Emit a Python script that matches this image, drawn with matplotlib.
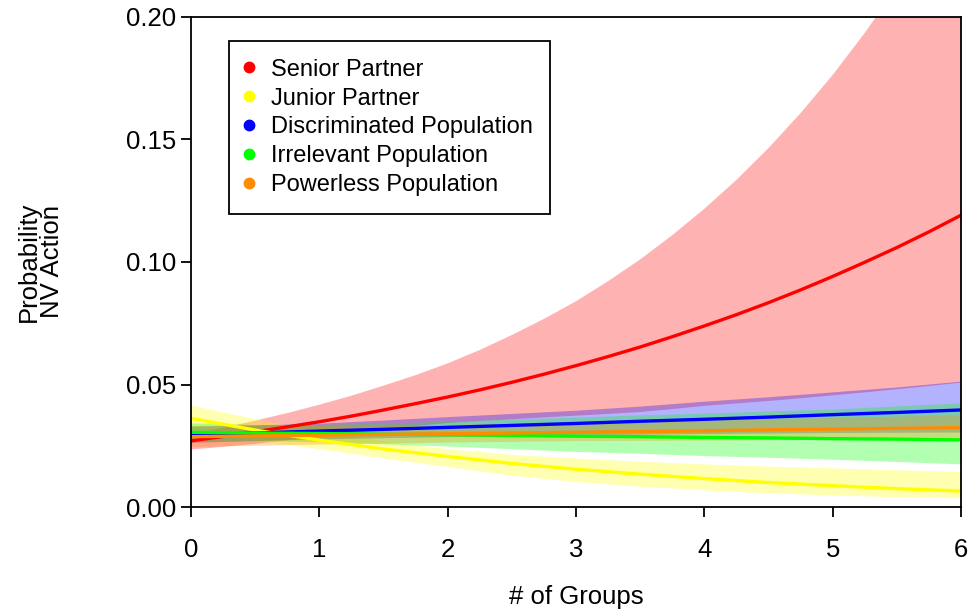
import numpy as np
import matplotlib
matplotlib.use("Agg")
import matplotlib.pyplot as plt
from matplotlib.lines import Line2D

plt.rcParams['font.family'] = ['Liberation Sans', 'DejaVu Sans']

# senior partner curve is steep, so it gets a finer grid
senior_x = [0, 0.25, 0.5, 0.75, 1, 1.25, 1.5, 1.75, 2, 2.25, 2.5, 2.75, 3,
            3.25, 3.5, 3.75, 4, 4.25, 4.5, 4.75, 5, 5.25, 5.5, 5.75, 6]
senior_fit = [0.0270, 0.0288, 0.0307, 0.0327, 0.0348, 0.0371, 0.0396, 0.0422, 0.0449,
              0.0478, 0.0509, 0.0542, 0.0577, 0.0614, 0.0653, 0.0695, 0.0739, 0.0785,
              0.0834, 0.0886, 0.0941, 0.0999, 0.1059, 0.1123, 0.1191]
senior_hi = [0.0300, 0.0326, 0.0355, 0.0386, 0.0420, 0.0457, 0.0498, 0.0541, 0.0589,
             0.0644, 0.0705, 0.0771, 0.0843, 0.0925, 0.1014, 0.1113, 0.1221, 0.1339,
             0.1469, 0.1612, 0.1768, 0.1940, 0.2128, 0.2334, 0.2561]
senior_lo = [0.0237, 0.0248, 0.0260, 0.0275, 0.0290, 0.0305, 0.0320, 0.0333, 0.0345,
             0.0353, 0.0360, 0.0368, 0.0375, 0.0382, 0.0390, 0.0402, 0.0415, 0.0425,
             0.0435, 0.0446, 0.0458, 0.0470, 0.0483, 0.0496, 0.0510]

# the other groups
n_groups = [0, 0.5, 1, 1.5, 2, 2.5, 3, 3.5, 4, 4.5, 5, 5.5, 6]

junior_fit = [0.0362, 0.0314, 0.0273, 0.0237, 0.0206, 0.0178, 0.0154, 0.0134, 0.0116, 0.0100, 0.0087, 0.0075, 0.0065]
junior_hi = [0.0416, 0.0360, 0.0310, 0.0270, 0.0238, 0.0215, 0.0200, 0.0187, 0.0176, 0.0167, 0.0160, 0.0152, 0.0145]
junior_lo = [0.0315, 0.0273, 0.0238, 0.0200, 0.0165, 0.0130, 0.0104, 0.0085, 0.0070, 0.0058, 0.0049, 0.0042, 0.0037]

discrim_fit = [0.0295, 0.0302, 0.0310, 0.0317, 0.0325, 0.0333, 0.0341, 0.0350, 0.0358, 0.0367, 0.0377, 0.0386, 0.0396]
discrim_hi = [0.0330, 0.0335, 0.0342, 0.0355, 0.0369, 0.0382, 0.0395, 0.0412, 0.0432, 0.0450, 0.0470, 0.0490, 0.0514]
discrim_lo = [0.0264, 0.0271, 0.0278, 0.0283, 0.0287, 0.0291, 0.0294, 0.0297, 0.0300, 0.0302, 0.0304, 0.0305, 0.0306]

irrel_fit = [0.0305, 0.0302, 0.0300, 0.0297, 0.0295, 0.0292, 0.0289, 0.0287, 0.0284, 0.0282, 0.0279, 0.0277, 0.0274]
irrel_hi = [0.0344, 0.0337, 0.0337, 0.0342, 0.0350, 0.0359, 0.0367, 0.0376, 0.0383, 0.0392, 0.0400, 0.0413, 0.0425]
irrel_lo = [0.0271, 0.0271, 0.0267, 0.0258, 0.0249, 0.0238, 0.0227, 0.0219, 0.0210, 0.0203, 0.0195, 0.0186, 0.0176]

powerless_fit = [0.0287, 0.0290, 0.0293, 0.0296, 0.0299, 0.0302, 0.0305, 0.0308, 0.0311, 0.0315, 0.0318, 0.0321, 0.0324]
powerless_hi = [0.0333, 0.0334, 0.0334, 0.0335, 0.0337, 0.0341, 0.0344, 0.0349, 0.0354, 0.0361, 0.0366, 0.0371, 0.0376]
powerless_lo = [0.0247, 0.0252, 0.0257, 0.0261, 0.0265, 0.0268, 0.0271, 0.0272, 0.0273, 0.0275, 0.0277, 0.0278, 0.0279]

labels = ['Senior Partner', 'Junior Partner', 'Discriminated Population',
          'Irrelevant Population', 'Powerless Population']
colors = ['#FF0000', '#FFFF00', '#0000FF', '#00FF00', '#FF8C00']
xs = [senior_x, n_groups, n_groups, n_groups, n_groups]
fits = [senior_fit, junior_fit, discrim_fit, irrel_fit, powerless_fit]
his = [senior_hi, junior_hi, discrim_hi, irrel_hi, powerless_hi]
los = [senior_lo, junior_lo, discrim_lo, irrel_lo, powerless_lo]

fig = plt.figure(figsize=(9.72, 6.13), dpi=100)
ax = fig.add_axes([0.1965, 0.1729, 0.7922, 0.7994])

# each line goes down first, its shaded band is laid over it
for x, fit, hi, lo, col in zip(xs, fits, his, los, colors):
    ax.plot(x, fit, color=col, linewidth=2.4, solid_capstyle='butt')
    ax.fill_between(x, lo, hi, color=col, alpha=0.3, linewidth=0)

ax.set_xlim(0, 6)
ax.set_ylim(0, 0.20)
ax.set_xticks(range(7))
ax.set_yticks([0.00, 0.05, 0.10, 0.15, 0.20])
ax.set_yticklabels(['0.00', '0.05', '0.10', '0.15', '0.20'])

for s in ax.spines.values():
    s.set_linewidth(1.3)
ax.tick_params(direction='out', length=7, width=1.3, labelsize=18.5)
ax.tick_params(axis='y', pad=3.5)
ax.tick_params(axis='x', pad=15)

ax.set_xlabel('# of Groups', fontsize=18.5, labelpad=17)
ax.set_ylabel('Probability\nNV Action', fontsize=18.5, labelpad=45, linespacing=0.95)

handles = [Line2D([], [], linestyle='none', marker='o', markersize=7.5,
                  markerfacecolor=c, markeredgecolor=c) for c in colors]
leg = ax.legend(handles, labels, loc='upper left', bbox_to_anchor=(0.049, 0.951),
                fontsize=17, frameon=True, fancybox=False, framealpha=1,
                edgecolor='black', handlelength=0.2, handletextpad=0.82,
                labelspacing=0.29, borderpad=0.75, borderaxespad=0)
leg.get_frame().set_linewidth(1.3)

fig.savefig('out.png', dpi=100)
